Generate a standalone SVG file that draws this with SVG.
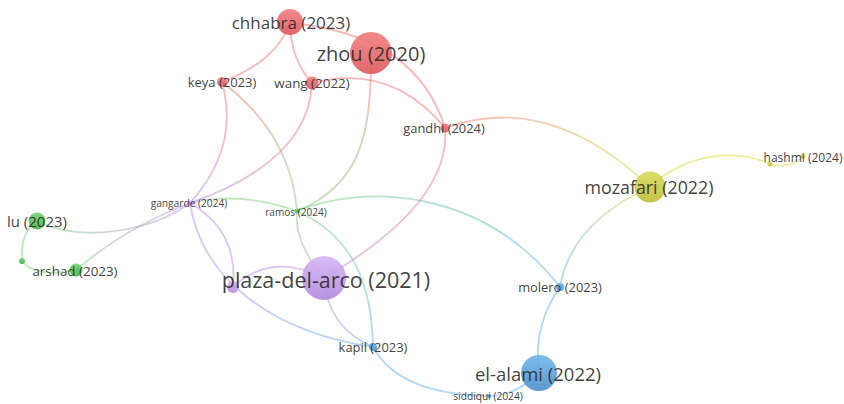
<svg xmlns="http://www.w3.org/2000/svg" width="844" height="404" viewBox="0 0 844 404">
  <style>
    .edge { fill: none; stroke-width: 1.8; stroke-opacity: 0.45; stroke-linecap: round; }
    .red { stroke: #f26262; }
    .green { stroke: #6ccd6c; }
    .blue { stroke: #52a8ea; }
    .purple { stroke: #b97ee8; }
    .yellow { stroke: #d4d41c; }
    .node { fill-opacity: 0.9; }
    .label { font-family: "Open Sans", "Noto Sans", "DejaVu Sans", sans-serif; fill: #2e2e2e; fill-opacity: 0.92; text-anchor: middle; dominant-baseline: central; }
  </style>
  <defs>
    <!-- node shading per cluster -->
    <linearGradient id="nRed" x1="0" y1="0" x2="0" y2="1"><stop offset="0" stop-color="#f27e7e"/><stop offset="1" stop-color="#dc585d"/></linearGradient>
    <linearGradient id="nGreen" x1="0" y1="0" x2="0" y2="1"><stop offset="0" stop-color="#6fd36f"/><stop offset="1" stop-color="#45b045"/></linearGradient>
    <linearGradient id="nBlue" x1="0" y1="0" x2="0" y2="1"><stop offset="0" stop-color="#6fb6ec"/><stop offset="1" stop-color="#4a8ec9"/></linearGradient>
    <linearGradient id="nYellow" x1="0" y1="0" x2="0" y2="1"><stop offset="0" stop-color="#d8d85a"/><stop offset="1" stop-color="#bdbd38"/></linearGradient>
    <linearGradient id="nPurple" x1="0" y1="0" x2="0" y2="1"><stop offset="0" stop-color="#d6b3f5"/><stop offset="1" stop-color="#b088dc"/></linearGradient>

    <!-- edges running between two clusters -->
    <linearGradient id="gZhouRamos" gradientUnits="userSpaceOnUse" x1="371" y1="53" x2="297" y2="211"><stop offset="0" stop-color="#f26262"/><stop offset="1" stop-color="#6ccd6c"/></linearGradient>
    <linearGradient id="gKeyaRamos" gradientUnits="userSpaceOnUse" x1="222" y1="82" x2="297" y2="211"><stop offset="0" stop-color="#f26262"/><stop offset="1" stop-color="#6ccd6c"/></linearGradient>
    <linearGradient id="gKeyaGangarde" gradientUnits="userSpaceOnUse" x1="222" y1="82" x2="190" y2="203"><stop offset="0" stop-color="#f26262"/><stop offset="1" stop-color="#b97ee8"/></linearGradient>
    <linearGradient id="gWangGangarde" gradientUnits="userSpaceOnUse" x1="312" y1="83" x2="190" y2="203"><stop offset="0" stop-color="#f26262"/><stop offset="1" stop-color="#b97ee8"/></linearGradient>
    <linearGradient id="gGandhiMozafari" gradientUnits="userSpaceOnUse" x1="445" y1="128" x2="650" y2="187"><stop offset="0" stop-color="#f26262"/><stop offset="1" stop-color="#d4d41c"/></linearGradient>
    <linearGradient id="gGandhiPlaza" gradientUnits="userSpaceOnUse" x1="445" y1="128" x2="324" y2="278"><stop offset="0" stop-color="#f26262"/><stop offset="1" stop-color="#b97ee8"/></linearGradient>
    <linearGradient id="gMozafariMolero" gradientUnits="userSpaceOnUse" x1="650" y1="187" x2="560" y2="287"><stop offset="0" stop-color="#d4d41c"/><stop offset="1" stop-color="#52a8ea"/></linearGradient>
    <linearGradient id="gRamosMolero" gradientUnits="userSpaceOnUse" x1="297" y1="211" x2="560" y2="287"><stop offset="0" stop-color="#6ccd6c"/><stop offset="1" stop-color="#52a8ea"/></linearGradient>
    <linearGradient id="gGangardeRamos" gradientUnits="userSpaceOnUse" x1="190" y1="203" x2="297" y2="211"><stop offset="0" stop-color="#b97ee8"/><stop offset="0.3" stop-color="#6ccd6c"/><stop offset="1" stop-color="#6ccd6c"/></linearGradient>
    <linearGradient id="gLuGangarde" gradientUnits="userSpaceOnUse" x1="37" y1="221" x2="190" y2="203"><stop offset="0" stop-color="#6ccd6c"/><stop offset="1" stop-color="#b97ee8"/></linearGradient>
    <linearGradient id="gArshadGangarde" gradientUnits="userSpaceOnUse" x1="76" y1="270" x2="190" y2="203"><stop offset="0" stop-color="#6ccd6c"/><stop offset="1" stop-color="#b97ee8"/></linearGradient>
    <linearGradient id="gGangardeKapil" gradientUnits="userSpaceOnUse" x1="190" y1="203" x2="373" y2="347"><stop offset="0" stop-color="#b97ee8"/><stop offset="1" stop-color="#52a8ea"/></linearGradient>
    <linearGradient id="gRamosPlaza" gradientUnits="userSpaceOnUse" x1="297" y1="211" x2="324" y2="278"><stop offset="0" stop-color="#6ccd6c"/><stop offset="1" stop-color="#b97ee8"/></linearGradient>
    <linearGradient id="gRamosKapil" gradientUnits="userSpaceOnUse" x1="297" y1="211" x2="373" y2="347"><stop offset="0" stop-color="#6ccd6c"/><stop offset="1" stop-color="#52a8ea"/></linearGradient>
    <linearGradient id="gPlazaKapil" gradientUnits="userSpaceOnUse" x1="324" y1="278" x2="373" y2="347"><stop offset="0" stop-color="#b97ee8"/><stop offset="1" stop-color="#52a8ea"/></linearGradient>
  </defs>

  <rect width="844" height="404" fill="#ffffff"/>

  <g id="connectors">
    <path class="edge red" d="M290,23 Q276,61.5 222,82"/>
    <path class="edge red" d="M290,23 Q290.5,59 312,83"/>
    <path class="edge red" d="M290,23 Q416.5,34.5 445,128"/>
    <path class="edge red" d="M312,83 Q391.5,62.5 445,128"/>
    <path class="edge" stroke="url(#gZhouRamos)" d="M371,53 C372,130 362,185 297,211"/>
    <path class="edge" stroke="url(#gKeyaRamos)" d="M222,82 Q290.5,133.5 297,211"/>
    <path class="edge" stroke="url(#gKeyaGangarde)" d="M222,82 Q240,147.5 190,203"/>
    <path class="edge" stroke="url(#gWangGangarde)" d="M312,83 Q309,161 190,203"/>
    <path class="edge" stroke="url(#gGandhiMozafari)" d="M445,128 Q548.5,90.5 650,187"/>
    <path class="edge" stroke="url(#gGandhiPlaza)" d="M445,128 Q451.5,203 324,278"/>
    <path class="edge yellow" d="M650,187 C690,150 740,150 770,164"/>
    <path class="edge yellow" d="M770,164 C785,168 795,165 803,156"/>
    <path class="edge" stroke="url(#gMozafariMolero)" d="M650,187 Q571,223 560,287"/>
    <path class="edge blue" d="M560,287 Q532.5,326 539,373"/>
    <path class="edge" stroke="url(#gRamosMolero)" d="M297,211 C360,185 480,185 560,287"/>
    <path class="edge" stroke="url(#gGangardeRamos)" d="M190,203 Q240.5,191 297,211"/>
    <path class="edge" stroke="url(#gLuGangarde)" d="M37,221 C80,243 150,232 190,203"/>
    <path class="edge" stroke="url(#gArshadGangarde)" d="M76,270 Q125,228 190,203"/>
    <path class="edge green" d="M37,221 Q20,232 22,261"/>
    <path class="edge green" d="M22,261 Q35,278 76,270"/>
    <path class="edge purple" d="M190,203 Q238.5,231 233,287"/>
    <path class="edge" stroke="url(#gGangardeKapil)" d="M190,203 C200,270 260,330 373,347"/>
    <path class="edge purple" d="M233,287 Q271.5,251.5 324,278"/>
    <path class="edge" stroke="url(#gRamosPlaza)" d="M297,211 Q293.5,241.5 324,278"/>
    <path class="edge" stroke="url(#gRamosKapil)" d="M297,211 C350,235 372,280 373,347"/>
    <path class="edge" stroke="url(#gPlazaKapil)" d="M324,278 Q327.5,327.5 373,347"/>
    <path class="edge blue" d="M373,347 Q399,394.5 489,396"/>
    <path class="edge blue" d="M489,396 Q515,396 539,373"/>
  </g>

  <g id="chhabra"><circle class="node" cx="290" cy="22" r="13" fill="url(#nRed)"/><text class="label" x="291" y="22" font-size="17">chhabra (2023)</text></g>
  <g id="zhou"><circle class="node" cx="371" cy="53" r="21" fill="url(#nRed)"/><text class="label" x="371" y="53" font-size="20">zhou (2020)</text></g>
  <g id="keya"><circle class="node" cx="222" cy="82" r="5" fill="url(#nRed)"/><text class="label" x="222" y="82" font-size="13">keya (2023)</text></g>
  <g id="wang"><circle class="node" cx="312" cy="83" r="6.5" fill="url(#nRed)"/><text class="label" x="312" y="83" font-size="13.4">wang (2022)</text></g>
  <g id="gandhi"><circle class="node" cx="445" cy="128" r="4.5" fill="url(#nRed)"/><text class="label" x="444" y="128" font-size="12.9">gandhi (2024)</text></g>
  <g id="mozafari"><circle class="node" cx="650" cy="187" r="15.5" fill="url(#nYellow)"/><text class="label" x="649" y="187" font-size="17.8">mozafari (2022)</text></g>
  <g id="hashmi"><circle class="node" cx="770" cy="164" r="2.5" fill="url(#nYellow)"/><circle class="node" cx="803" cy="156" r="2.5" fill="url(#nYellow)"/><text class="label" x="803" y="157" font-size="12">hashmi (2024)</text></g>
  <g id="gangarde"><circle class="node" cx="190" cy="203" r="2.5" fill="url(#nPurple)"/><text class="label" x="189" y="203" font-size="10.2">gangarde (2024)</text></g>
  <g id="ramos"><circle class="node" cx="297" cy="211" r="2.5" fill="url(#nGreen)"/><text class="label" x="296" y="212" font-size="10.1">ramos (2024)</text></g>
  <g id="lu"><circle class="node" cx="37" cy="221" r="8.5" fill="url(#nGreen)"/><circle class="node" cx="22" cy="261" r="3" fill="url(#nGreen)"/><text class="label" x="37" y="221" font-size="15">lu (2023)</text></g>
  <g id="arshad"><circle class="node" cx="76" cy="270" r="6.5" fill="url(#nGreen)"/><text class="label" x="75" y="271" font-size="13.4">arshad (2023)</text></g>
  <g id="plaza-del-arco"><circle class="node" cx="233" cy="287" r="6" fill="url(#nPurple)"/><circle class="node" cx="324" cy="278" r="22" fill="url(#nPurple)"/><text class="label" x="326" y="279" font-size="21.5">plaza-del-arco (2021)</text></g>
  <g id="molero"><circle class="node" cx="560" cy="287" r="4" fill="url(#nBlue)"/><text class="label" x="560" y="287" font-size="12.9">molero (2023)</text></g>
  <g id="kapil"><circle class="node" cx="373" cy="347" r="4" fill="url(#nBlue)"/><text class="label" x="373" y="347" font-size="12.9">kapil (2023)</text></g>
  <g id="el-alami"><circle class="node" cx="539" cy="373" r="18" fill="url(#nBlue)"/><text class="label" x="538" y="373" font-size="18.5">el-alami (2022)</text></g>
  <g id="siddiqui"><circle class="node" cx="489" cy="396" r="2" fill="url(#nBlue)"/><text class="label" x="488" y="396" font-size="10.2">siddiqui (2024)</text></g>
</svg>
